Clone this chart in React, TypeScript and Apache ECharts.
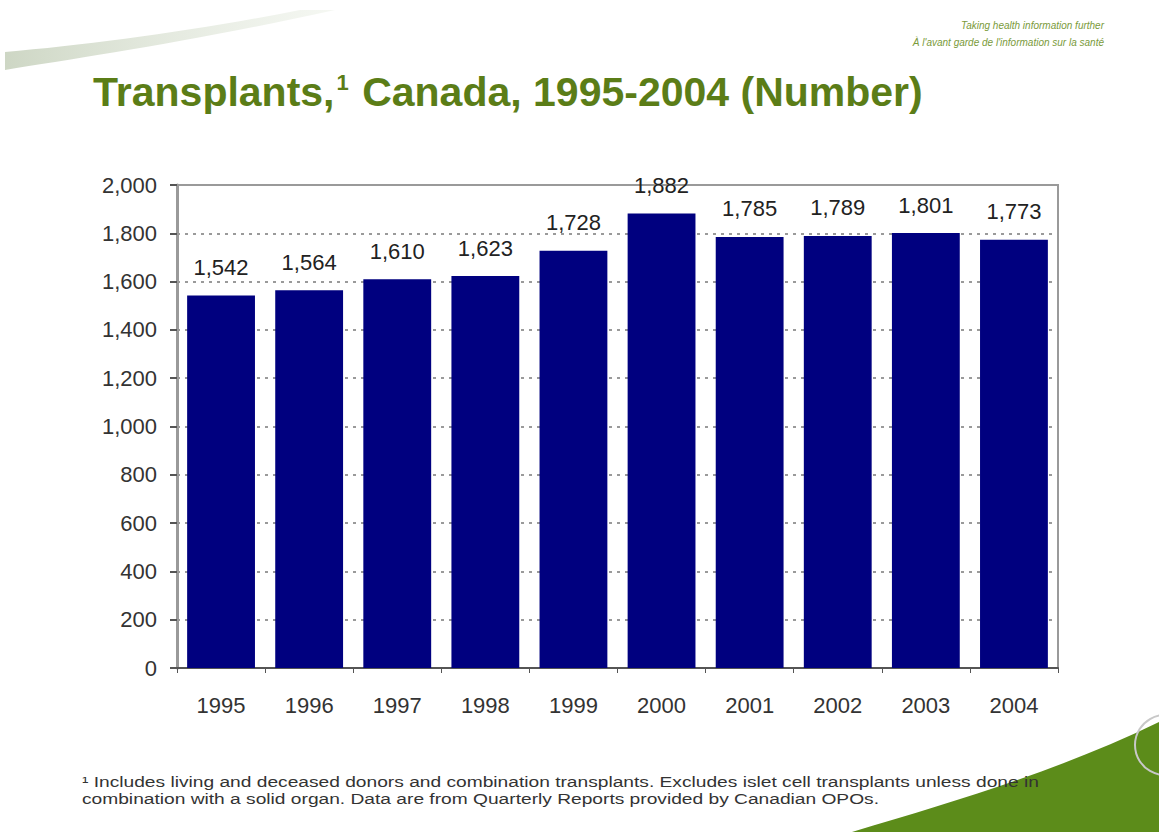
import React, { useEffect, useRef } from "react";
import * as echarts from "echarts";

const years = ["1995", "1996", "1997", "1998", "1999", "2000", "2001", "2002", "2003", "2004"];
const transplants = [1542, 1564, 1610, 1623, 1728, 1882, 1785, 1789, 1801, 1773];
const yTicks = { min: 0, max: 2000, interval: 200 };

const fmt = (v: number) => v.toLocaleString("en-US");

echarts.graphic.registerShape(
  "greenCorner",
  echarts.graphic.extendPath("M 852 832 C 960 800 1060 770 1159 722 L 1159 832 Z", {})
);
echarts.graphic.registerShape(
  "swoosh",
  echarts.graphic.extendPath(
    "M 5 70 C 80 58 200 40 335 10 L 300 10 C 200 30 90 45 5 52 Z",
    {}
  )
);

const FONT = "Liberation Sans, Arial, sans-serif";

export default function App() {
  const ref = useRef<HTMLDivElement>(null);
  useEffect(() => {
    document.body.style.margin = "0";
    const chart = echarts.init(ref.current!, null, { renderer: "svg" });
    chart.setOption({
      animation: false,
      backgroundColor: "#ffffff",
      textStyle: { fontFamily: FONT },
      title: {
        text: "{a|Transplants,}{s|1}{a| Canada, 1995-2004 (Number)}",
        left: 88,
        top: 66,
        textStyle: {
          rich: {
            a: { fontSize: 41, fontWeight: "bold", color: "#5b7d17", fontFamily: FONT },
            s: { fontSize: 22, fontWeight: "bold", color: "#5b7d17", verticalAlign: "top", padding: [0, 2, 16, 2], fontFamily: FONT },
          },
        },
      },
      grid: {
        left: 177,
        right: 101,
        top: 185,
        bottom: 164,
        show: true,
        borderColor: "#9a9a9a",
        borderWidth: 2,
        backgroundColor: "transparent",
      },
      xAxis: {
        type: "category",
        data: years,
        axisLine: { lineStyle: { color: "#555", width: 2 } },
        axisTick: { show: true, alignWithLabel: false, length: 5, lineStyle: { color: "#555" } },
        axisLabel: { color: "#333", fontSize: 22, margin: 26 },
      },
      yAxis: {
        type: "value",
        min: yTicks.min,
        max: yTicks.max,
        interval: yTicks.interval,
        axisLine: { show: true, lineStyle: { color: "#9a9a9a", width: 3 } },
        axisTick: { show: true, length: 7, lineStyle: { color: "#555", width: 2 } },
        axisLabel: { color: "#333", fontSize: 22, margin: 20, formatter: (v: number) => fmt(v) },
        splitLine: { show: true, lineStyle: { color: "#9a9a9a", width: 2, type: [3, 5] } },
      },
      series: [
        {
          type: "bar",
          data: transplants,
          barCategoryGap: "23%",
          itemStyle: { color: "#00007f" },
          label: {
            show: true,
            position: "top",
            distance: 17,
            color: "#222",
            fontSize: 22,
            formatter: (p: any) => fmt(p.value),
          },
          z: 3,
        },
      ],
      graphic: [
        {
          type: "swoosh",
          style: {
            fill: new echarts.graphic.LinearGradient(0, 0, 1, 0, [
              { offset: 0, color: "rgba(200,210,190,0.9)" },
              { offset: 1, color: "rgba(235,240,230,0.5)" },
            ]),
          },
        },
        {
          type: "greenCorner",
          style: { fill: "#5c8c1a" },
        },
        {
          type: "circle",
          shape: { cx: 1165, cy: 745, r: 30 },
          style: { fill: "none", stroke: "#c8c8c8", lineWidth: 2 },
        },
        {
          type: "text",
          x: 1104,
          y: 17,
          style: {
            text: "Taking health information further\nÀ l'avant garde de l'information sur la santé",
            align: "right",
            fill: "#7a9a3a",
            font: "italic 10px " + FONT,
            lineHeight: 17,
          },
        },
        {
          type: "text",
          x: 82,
          y: 774,
          scaleX: 1.37,
          style: {
            text:
              "\u00B9 Includes living and deceased donors and combination transplants. Excludes islet cell transplants unless done in\ncombination with a solid organ. Data are from Quarterly Reports provided by Canadian OPOs.",
            fill: "#333",
            font: "14px " + FONT,
            lineHeight: 17,
          },
        },
      ],
    });
    return () => chart.dispose();
  }, []);
  return <div ref={ref} style={{ width: 1159, height: 832 }} />;
}
